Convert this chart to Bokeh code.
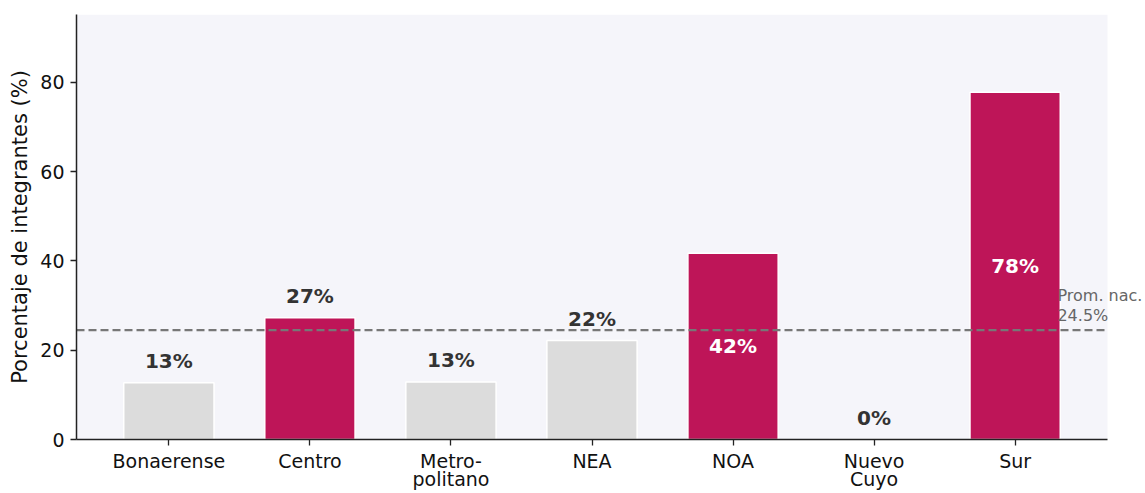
from bokeh.plotting import figure
from bokeh.models import Range1d, FixedTicker, Label, ColumnDataSource, BoxAnnotation
from bokeh.embed import file_html
from bokeh.resources import INLINE
from bokeh.core.properties import value

# ---- data ----
regions = ["Bonaerense", "Centro", "Metro-\npolitano", "NEA", "NOA", "Nuevo\nCuyo", "Sur"]
pct = [12.7, 27.3, 12.9, 22.2, 41.7, 0.0, 77.8]
highlight = [False, True, False, False, True, False, True]
national_avg = 24.5
y_ticks = [0, 20, 40, 60, 80]
avg_label = ["Prom. nac.", "24.5%"]

# ---- styles ----
HI = "#BE1558"
LO = "#DCDCDC"
BG = "#F5F5FA"
FONT = "DejaVu Sans"

xs = list(range(len(regions)))
colors = [HI if h else LO for h in highlight]

X0 = -0.655
X1 = len(regions) - 1 + 0.655
# the frame is extended to the right edge so that the average annotation is not clipped;
# the shaded plotting area, the axis and the average line stop at X1
X_END = X0 + (1145 - 76) * (X1 - X0) / 1031.0

p = figure(width=1145, height=493, output_backend="svg", toolbar_location=None,
           x_range=Range1d(X0, X_END),
           y_range=Range1d(0, 95.2),
           min_border_left=76, min_border_right=0, min_border_top=14, min_border_bottom=45)
p.background_fill_color = "white"
p.border_fill_color = "white"
p.outline_line_color = None
p.grid.visible = False

p.add_layout(BoxAnnotation(left=X0, right=X1, fill_color=BG, fill_alpha=1.0,
                           line_color=None, level="underlay"))

src = ColumnDataSource(dict(x=xs, top=pct, color=colors))
p.vbar(x="x", top="top", bottom=0, width=0.64, fill_color="color", line_color="white",
       line_width=1.5, source=src)

p.segment(x0=[X0], y0=[national_avg], x1=[X1], y1=[national_avg], line_color="#777777",
          line_width=2.2, line_dash="8 4")

# value labels
in_x, in_y, in_t = [], [], []
out_x, out_y, out_t = [], [], []
for x, v in zip(xs, pct):
    t = f"{v:.0f}%"
    if v >= 35:
        in_x.append(x); in_y.append(v / 2); in_t.append(t)
    else:
        out_x.append(x); out_y.append(v + 2.2); out_t.append(t)

p.text(x=out_x, y=out_y, text=out_t, text_font=value(FONT), text_font_style="bold",
       text_font_size="20px", text_color="#333333", text_align="center",
       text_baseline="bottom")
p.text(x=in_x, y=in_y, text=in_t, text_font=value(FONT), text_font_style="bold",
       text_font_size="20px", text_color="white", text_align="center",
       text_baseline="middle")

# national average annotation
lx = len(regions) - 1 + 0.3
p.add_layout(Label(x=lx, y=national_avg, y_offset=35, text=avg_label[0],
                   text_font=FONT, text_font_size="16px", text_color="#666666",
                   text_align="left", text_baseline="middle"))
p.add_layout(Label(x=lx, y=national_avg, y_offset=15, text=avg_label[1],
                   text_font=FONT, text_font_size="16px", text_color="#666666",
                   text_align="left", text_baseline="middle"))

# axes
p.xaxis.ticker = FixedTicker(ticks=xs)
p.xaxis.major_label_overrides = {i: r for i, r in enumerate(regions)}
p.xaxis.bounds = (X0, X1)
p.yaxis.ticker = FixedTicker(ticks=y_ticks)
p.yaxis.axis_label = "Porcentaje de integrantes (%)"
for ax in (p.xaxis[0], p.yaxis[0]):
    ax.axis_line_color = "#222222"
    ax.axis_line_width = 1.5
    ax.major_tick_line_color = "#222222"
    ax.major_tick_line_width = 1.3
    ax.major_tick_out = 6
    ax.major_tick_in = 0
    ax.minor_tick_line_color = None
    ax.major_label_text_font = FONT
    ax.major_label_text_font_size = "19px"
    ax.major_label_text_color = "#111111"
p.xaxis.major_label_text_line_height = 0.85
p.yaxis.axis_label_text_font = FONT
p.yaxis.axis_label_text_font_size = "21px"
p.yaxis.axis_label_text_font_style = "normal"
p.yaxis.axis_label_text_color = "#111111"
p.yaxis.axis_label_standoff = 5
p.xaxis.major_label_standoff = 4
p.yaxis.major_label_standoff = 6

open("out.html", "w").write(file_html(p, INLINE))
